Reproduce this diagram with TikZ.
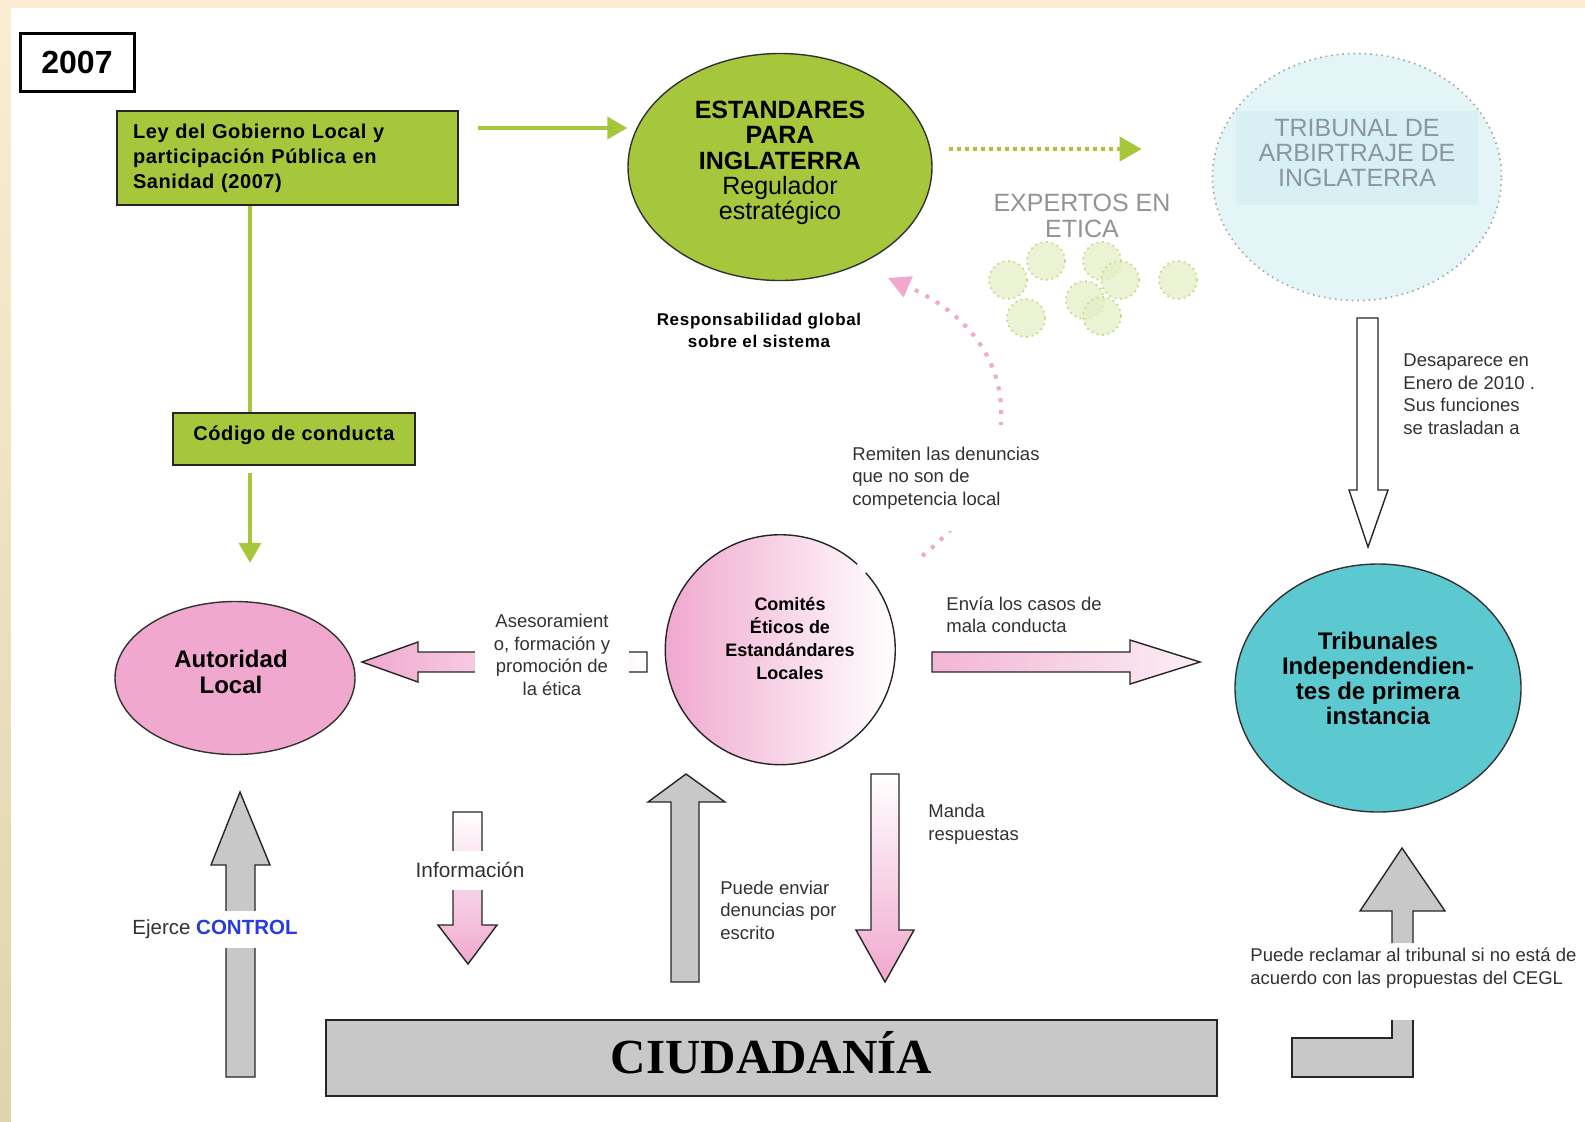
\documentclass[tikz,border=0pt]{standalone}
\usepackage{fontspec}
\setmainfont{Liberation Sans}
\newfontfamily\ciufont{Liberation Serif}
\newfontfamily\espaciada{Liberation Sans}[LetterSpace=3.0]
\newfontfamily\espaciadab{Liberation Sans}[LetterSpace=4.0]
\usetikzlibrary{shapes.geometric,arrows.meta}

\definecolor{verde}{RGB}{166,199,60}
\definecolor{rosa}{RGB}{240,168,206}
\definecolor{turquesa}{RGB}{92,200,208}
\definecolor{celeste}{RGB}{228,245,248}
\definecolor{celesteb}{RGB}{216,239,243}
\definecolor{gris}{RGB}{200,200,200}
\definecolor{beige}{RGB}{252,236,210}
\definecolor{arena}{RGB}{224,212,172}
\definecolor{texto}{RGB}{50,50,50}
\definecolor{azul}{RGB}{40,60,220}
\definecolor{grisarb}{RGB}{138,152,158}

\begin{document}
\begin{tikzpicture}[x=0.5pt,y=-0.5pt,
  caja/.style={rectangle,draw=black!85,line width=0.8pt,fill=verde},
  forma/.style={draw=black!80,line width=0.7pt,inner sep=0pt},
  etiq/.style={font=\fontsize{9.25}{11.25}\selectfont,text=texto,align=left,inner sep=2pt},
  bloque/.style={draw=black!85,line width=0.7pt},
  flecha/.style={verde,line width=2pt,-{Triangle[width=11pt,length=10pt]}},
  experto/.style={circle,draw=verde!70,dotted,line width=0.8pt,fill=verde!30,fill opacity=0.7,minimum size=19pt,inner sep=0pt}]

% marco
\useasboundingbox (0,0) rectangle (1585,1121);
\fill[beige] (0,0) rectangle (1585,1121);
\shade[top color=beige,bottom color=arena] (0,8) rectangle (11,1121);
\fill[white] (11,8) rectangle (1585,1121);

% nodos
\node[rectangle,draw,line width=1.5pt,minimum width=57pt,minimum height=29pt,font=\fontsize{16}{16}\selectfont\bfseries] (anio) at (77,62) {2007};
\node[caja,text width=154.5pt,inner xsep=8pt,minimum height=47pt,align=left,font=\espaciada\fontsize{10}{12.5}\selectfont\bfseries] (ley) at (287.5,158) {Ley del Gobierno Local y\\participación Pública en\\Sanidad (2007)};
\node[caja,minimum width=121pt,minimum height=26pt,text depth=5.9pt,font=\espaciada\fontsize{10}{11}\selectfont\bfseries] (codigo) at (294,439) {Código de conducta};

\node[forma,ellipse,fill=verde,minimum width=152pt,minimum height=113.5pt] (estandares) at (780,167) {};
\node[align=center,font=\fontsize{12.5}{12.7}\selectfont] (estandarestxt) at ([yshift=2pt]estandares.center) {\textbf{ESTANDARES}\\\textbf{PARA}\\\textbf{INGLATERRA}\\Regulador\\estratégico};
\node[font=\espaciadab\fontsize{8.5}{11}\selectfont\bfseries,align=center] (resp) at (759,330) {Responsabilidad global\\sobre el sistema};

\node[font=\fontsize{12.5}{13}\selectfont,text=gray!85,align=center] (expertos) at (1082,216) {EXPERTOS EN\\ETICA};
\foreach \x/\y [count=\i] in {1008/280,1046/261,1102/261,1120/280,1085/300,1026/318,1102/316,1178/280}
  \node[experto] (e\i) at (\x,\y) {};

\node[ellipse,draw=gray!70,dotted,line width=0.8pt,fill=celeste,minimum width=144.5pt,minimum height=123.5pt] (arbitraje) at (1357,177) {};
\fill[celesteb] (1236,111) rectangle (1478,205);
\node[font=\fontsize{12.5}{12.5}\selectfont,text=grisarb,align=center] (arbtxt) at (1357,153) {TRIBUNAL DE\\ARBIRTRAJE DE\\INGLATERRA};

\node[forma,ellipse,fill=rosa,minimum width=120pt,minimum height=76.5pt] (autoridad) at (235,678) {};
\node[align=center,font=\fontsize{12}{13}\selectfont\bfseries] (autoridadtxt) at ([xshift=-2pt,yshift=3pt]autoridad.center) {Autoridad\\Local};

\node[circle,left color=rosa,right color=white,minimum size=115pt,inner sep=0pt] (comites) at (780,650) {};
\draw[line width=0.7pt,black!85] (comites.48) arc[start angle=48,end angle=402,radius=57.5pt];
\node[align=center,font=\fontsize{9}{11.5}\selectfont\bfseries] (comitestxt) at ([xshift=5pt,yshift=6pt]comites.center) {Comités\\Éticos de\\Estandándares\\Locales};

\node[forma,ellipse,fill=turquesa,minimum width=143pt,minimum height=124pt] (tribunales) at (1378,688) {};
\node[align=center,font=\fontsize{12}{12.5}\selectfont\bfseries] (tribunalestxt) at ([yshift=5pt]tribunales.center) {Tribunales\\Independendien-\\tes de primera\\instancia};

\node[rectangle,draw=black!85,line width=0.8pt,fill=gris,minimum width=445.5pt,minimum height=38pt,text depth=6pt,font=\ciufont\fontsize{24.5}{24.5}\selectfont\bfseries] (ciudadania) at (771.5,1058) {CIUDADANÍA};

% flechas verdes
\draw[flecha,shorten <=9.5pt] (ley.east |- 0,128) -- (estandares.west |- 0,128);
\draw[verde,line width=2pt] (250,0 |- ley.south) -- (250,0 |- codigo.north);
\draw[flecha,shorten <=3.5pt,shorten >=19pt] (250,0 |- codigo.south) -- (250,0 |- autoridad.north);
\draw[verde,line width=2pt,dash pattern=on 2pt off 2pt,-{Triangle[width=12pt,length=11pt]},shorten <=8pt,shorten >=35pt] (estandares.east |- 0,149) -- (arbitraje.west |- 0,149);

% flecha punteada rosa
\coordinate (remdesde) at (922,556);
\coordinate (remhasta) at (888,278);
\draw[rosa,line width=2pt,dash pattern=on 2pt off 4pt,-{Triangle[width=11pt,length=11pt]}] (remdesde) .. controls (1030,470) and (1030,340) .. (remhasta);
\node[etiq,fill=white,anchor=west,inner ysep=11pt] (remiten) at (848,478) {Remiten las denuncias\\que no son de\\competencia local};

% flechas de bloque
\draw[bloque,left color=rosa,right color=white] (647,652) -- (418,652) -- (418,642) -- (362,662) -- (418,682) -- (418,672) -- (647,672) -- cycle;
\node[etiq,fill=white,align=center,minimum width=77pt] (asesora) at (552,655) {Asesoramient\\o, formación y\\promoción de\\la ética};

\draw[bloque,left color=rosa!85,right color=rosa!20] (932,652) -- (1130,652) -- (1130,640) -- (1200,662) -- (1130,684) -- (1130,672) -- (932,672) -- cycle;
\node[etiq,anchor=west] (envia) at (942,615) {Envía los casos de\\mala conducta};

\draw[bloque,fill=white] (1357,318) -- (1378,318) -- (1378,490) -- (1388,490) -- (1368,547) -- (1349,490) -- (1357,490) -- cycle;
\node[etiq,anchor=west] (desaparece) at (1399,394) {Desaparece en\\Enero de 2010 .\\Sus funciones\\se trasladan a};

\draw[bloque,fill=gris] (226,1077) -- (226,865) -- (211,865) -- (240,792) -- (270,865) -- (255,865) -- (255,1077) -- cycle;
\node[etiq,fill=white,minimum height=18.5pt,font=\fontsize{10.25}{11}\selectfont] (control) at (215,929) {Ejerce \textcolor{azul}{\textbf{CONTROL}}};

\draw[bloque,top color=white,bottom color=rosa] (453,812) -- (482,812) -- (482,925) -- (497,925) -- (468,964) -- (438,925) -- (453,925) -- cycle;
\node[etiq,fill=white,minimum height=19.5pt,font=\fontsize{10.4}{11}\selectfont] (info) at (470,870) {Información};

\draw[bloque,fill=gris] (671,982) -- (671,802) -- (648,802) -- (686,774) -- (725,802) -- (699,802) -- (699,982) -- cycle;
\node[etiq,anchor=west] (enviar) at (716,910) {Puede enviar\\denuncias por\\escrito};

\draw[bloque,top color=white,bottom color=rosa] (871,774) -- (899,774) -- (899,930) -- (914,930) -- (885,982) -- (856,930) -- (871,930) -- cycle;
\node[etiq,anchor=west] (manda) at (924,824) {Manda\\respuestas};

\draw[bloque,fill=gris] (1392,943) -- (1392,911) -- (1360,911) -- (1402,848) -- (1445,911) -- (1413,911) -- (1413,943);
\draw[bloque,fill=gris] (1413,1020) -- (1413,1077) -- (1292,1077) -- (1292,1038) -- (1392,1038) -- (1392,1020);
\node[etiq,anchor=west] (reclamar) at (1246,968) {Puede reclamar al tribunal si no está de\\acuerdo con las propuestas del CEGL};
\end{tikzpicture}
\end{document}
